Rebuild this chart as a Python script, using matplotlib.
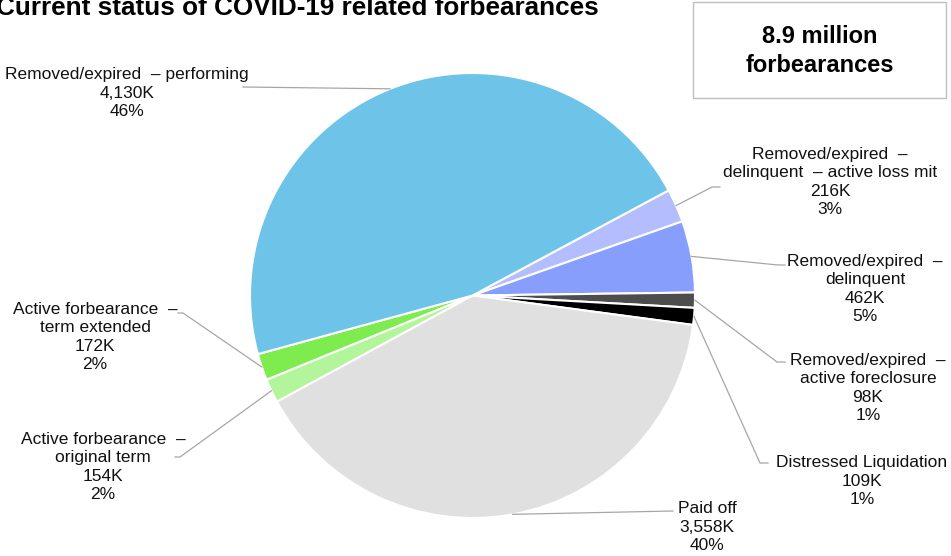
import matplotlib.pyplot as plt
import numpy as np

plt.rcParams['font.family'] = ['Liberation Sans', 'DejaVu Sans']

# forbearance outcomes, thousands of loans (clockwise from the top-right)
categorias = ['Removed/expired  –\ndelinquent  – active loss mit',
              'Removed/expired  –\ndelinquent',
              'Removed/expired  –\nactive foreclosure',
              'Distressed Liquidation',
              'Paid off',
              'Active forbearance  –\noriginal term',
              'Active forbearance  –\nterm extended',
              'Removed/expired  – performing']
valores = [216, 462, 98, 109, 3558, 154, 172, 4130]
percentuais = [3, 5, 1, 1, 40, 2, 2, 46]
cores = ['#B4BEFF', '#879EFC', '#4D4D4D', '#000000',
         '#E0E0E0', '#B3F59A', '#7EEB4F', '#6EC4E8']

W, H = 951, 556
cx, cy, raio = 472.5, 295.5, 222.5

# onde fica cada rótulo (centro do texto, cotovelo e fim da linha guia), em pixels
rotulos = [
    dict(xy=(830, 182), cot=(712, 187), fim=(720, 187)),
    dict(xy=(865, 289), cot=(778, 265), fim=(785, 265)),
    dict(xy=(868, 388), cot=(777, 362), fim=(785, 362)),
    dict(xy=(862, 481), cot=(760, 463), fim=(768, 463)),
    dict(xy=(707, 527), cot=(673, 511), fim=(673, 511)),
    dict(xy=(103, 467), cot=(180, 457), fim=(175, 457)),
    dict(xy=(95, 337), cot=(183, 313), fim=(178, 313)),
    dict(xy=(127, 93), cot=(243, 87), fim=(243, 87)),
]

fig = plt.figure(figsize=(W / 100, H / 100), dpi=100)
ax = fig.add_axes([0, 0, 1, 1])

fatias, _ = ax.pie(valores, colors=cores, startangle=28.2, counterclock=False,
                   center=(cx, H - cy), radius=raio,
                   wedgeprops=dict(edgecolor='white', linewidth=1.5))
ax.set_xlim(0, W)
ax.set_ylim(0, H)
ax.set_aspect('equal')
ax.axis('off')

for fatia, nome, v, p, r in zip(fatias, categorias, valores, percentuais, rotulos):
    ang = np.deg2rad((fatia.theta1 + fatia.theta2) / 2)
    x0 = cx + raio * np.cos(ang)
    y0 = (H - cy) + raio * np.sin(ang)
    xs = [x0, r['cot'][0], r['fim'][0]]
    ys = [y0, H - r['cot'][1], H - r['fim'][1]]
    ax.plot(xs, ys, color='#A6A6A6', lw=0.9)
    texto = f'{nome}\n{v:,}K\n{p}%'
    ax.text(r['xy'][0], H - r['xy'][1], texto, ha='center', va='center',
            fontsize=12.5, linespacing=1.27, color='#111111')

fig.text(-0.004, 1 - 15 / H, 'Current status of COVID-19 related forbearances',
         fontsize=18.8, fontweight='bold', ha='left', va='baseline')

ax.add_patch(plt.Rectangle((693, H - 98), 253, 96, fill=False,
                           edgecolor='#BFBFBF', lw=1))
ax.text(820, H - 51, '8.9 million\nforbearances', ha='center', va='center',
        fontsize=17, fontweight='bold', linespacing=1.34)

fig.savefig('out.png', dpi=100)
